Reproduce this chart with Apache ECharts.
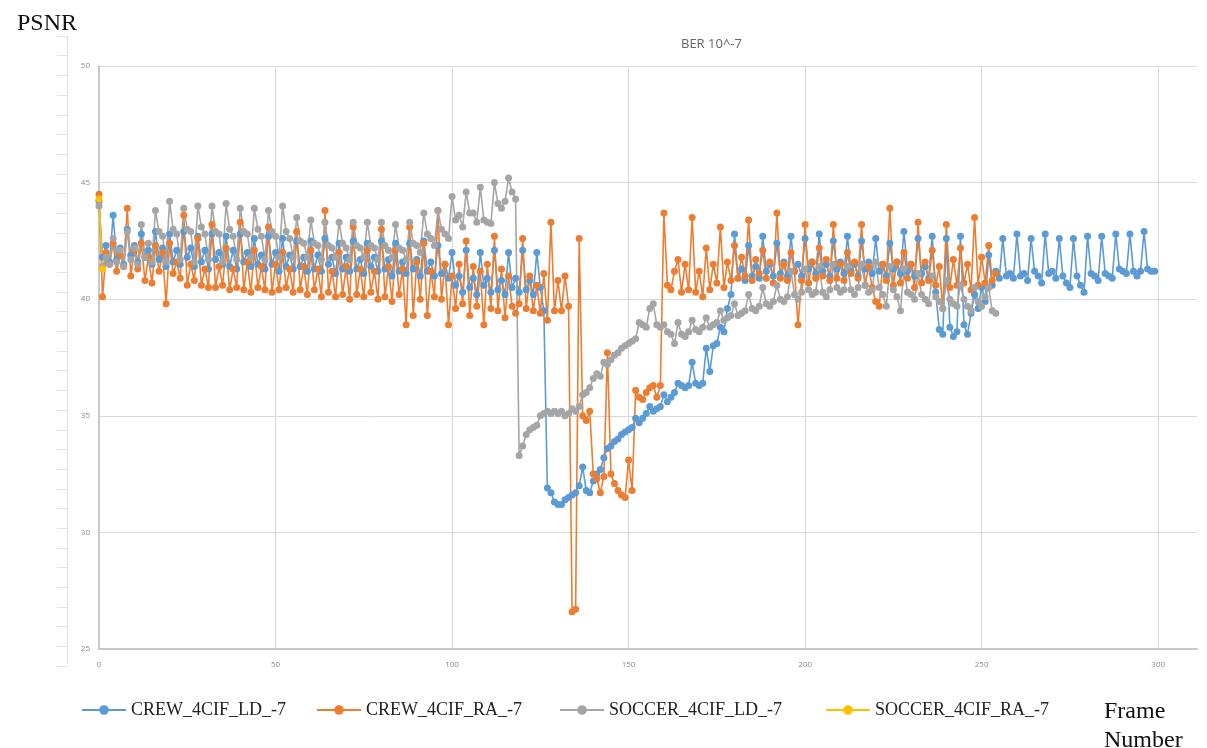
<!DOCTYPE html>
<html>
<head>
<meta charset="utf-8">
<script src="https://cdn.jsdelivr.net/npm/echarts@6/dist/echarts.min.js"></script>
<style>
html,body{margin:0;padding:0;background:#fff;}
#c{width:1207px;height:748px;}
</style>
</head>
<body>
<div id="c"></div>
<script>
// PSNR per frame (frame number = array index)
const crewLD = [
 44.2, 41.8, 42.3, 41.6, 43.6, 41.7, 42.2, 41.5, 43.0, 41.9,
 42.3, 41.6, 42.8, 41.8, 42.1, 41.5, 42.9, 41.7, 42.2, 41.4,
 42.8, 41.6, 42.1, 41.5, 42.9, 41.8, 42.2, 41.4, 42.7, 41.6,
 42.1, 41.3, 42.8, 41.7, 42.0, 41.5, 42.7, 41.4, 42.1, 41.3,
 42.8, 41.6, 42.0, 41.4, 42.6, 41.5, 41.9, 41.3, 42.7, 41.5,
 42.0, 41.2, 42.6, 41.4, 41.9, 41.3, 42.5, 41.4, 41.8, 41.2,
 42.5, 41.3, 41.9, 41.2, 42.6, 41.5, 41.8, 41.1, 42.4, 41.3,
 41.8, 41.2, 42.5, 41.3, 41.7, 41.1, 42.4, 41.4, 41.8, 41.2,
 42.5, 41.3, 41.7, 41.0, 42.4, 41.2, 41.6, 41.1, 42.4, 41.3,
 41.7, 41.0, 42.5, 41.2, 41.6, 41.0, 42.3, 41.1, 41.5, 40.9,
 42.0, 40.6, 41.0, 40.3, 42.1, 40.5, 40.9, 40.2, 42.0, 40.6,
 40.9, 40.3, 42.1, 40.4, 40.8, 40.2, 42.0, 40.5, 40.9, 40.3,
 42.1, 40.4, 40.8, 40.2, 42.0, 40.5, 39.5, 31.9, 31.7, 31.3,
 31.2, 31.2, 31.4, 31.5, 31.6, 31.7, 32.0, 32.8, 31.8, 31.7,
 32.2, 32.5, 32.7, 33.2, 33.6, 33.7, 33.9, 34.0, 34.2, 34.3,
 34.4, 34.5, 34.9, 34.7, 34.9, 35.1, 35.4, 35.2, 35.3, 35.4,
 35.9, 35.6, 35.8, 36.0, 36.4, 36.3, 36.2, 36.3, 37.3, 36.4,
 36.3, 36.4, 37.9, 36.9, 38.0, 38.1, 38.8, 38.6, 39.6, 40.2,
 42.8, 40.9, 41.3, 40.8, 42.3, 41.0, 41.4, 40.9, 42.7, 41.2,
 41.5, 41.0, 42.4, 41.1, 41.6, 41.0, 42.7, 41.2, 41.5, 41.0,
 42.6, 41.3, 41.6, 41.1, 42.8, 41.2, 41.5, 41.0, 42.5, 41.3,
 41.6, 41.1, 42.7, 41.2, 41.5, 41.0, 42.5, 41.3, 41.6, 41.1,
 42.6, 41.2, 41.5, 41.0, 42.4, 41.3, 41.6, 41.1, 42.9, 41.2,
 41.5, 41.0, 42.6, 41.1, 41.4, 40.9, 42.7, 40.3, 38.7, 38.5,
 42.6, 38.8, 38.4, 38.6, 42.7, 38.9, 38.5, 39.4, 40.2, 39.6,
 40.5, 39.9, 41.9, 40.6, 41.2, 40.9, 42.6, 41.0, 41.1, 40.9,
 42.8, 41.0, 41.1, 40.8, 42.6, 41.2, 41.0, 40.7, 42.8, 41.1,
 41.2, 40.9, 42.6, 41.0, 40.7, 40.5, 42.6, 41.0, 40.6, 40.3,
 42.7, 41.1, 41.0, 40.8, 42.7, 41.1, 41.0, 40.9, 42.8, 41.3,
 41.2, 41.1, 42.8, 41.2, 41.0, 41.2, 42.9, 41.3, 41.2, 41.2
];
const crewRA = [
 44.5, 40.1, 42.0, 41.5, 42.4, 41.2, 41.9, 41.4, 43.9, 41.0,
 42.1, 41.3, 42.4, 40.8, 41.8, 40.7, 42.3, 41.2, 42.0, 39.8,
 42.4, 41.1, 41.6, 40.9, 43.6, 40.6, 41.5, 40.8, 42.6, 40.6,
 41.3, 40.5, 43.2, 40.5, 41.4, 40.6, 42.2, 40.4, 41.3, 40.5,
 43.3, 40.4, 41.6, 40.3, 42.1, 40.5, 41.4, 40.4, 43.1, 40.3,
 41.5, 40.4, 42.0, 40.5, 41.3, 40.3, 42.9, 40.4, 41.4, 40.2,
 42.1, 40.4, 41.3, 40.1, 43.8, 40.3, 41.2, 40.1, 42.0, 40.2,
 41.4, 40.0, 43.1, 40.2, 41.3, 40.1, 42.1, 40.3, 41.2, 40.0,
 43.0, 40.1, 41.4, 39.9, 42.1, 40.2, 41.3, 38.9, 43.1, 39.3,
 41.6, 40.0, 42.4, 39.3, 41.2, 40.1, 43.8, 40.0, 41.5, 38.9,
 41.0, 39.6, 41.5, 39.8, 42.5, 39.3, 41.4, 39.7, 41.2, 38.9,
 41.5, 39.6, 42.7, 39.5, 41.3, 39.2, 41.0, 39.7, 39.4, 39.8,
 42.6, 39.6, 41.0, 39.5, 40.6, 39.4, 41.1, 39.1, 43.3, 39.5,
 40.8, 39.5, 41.0, 39.7, 26.6, 26.7, 42.6, 35.0, 34.8, 35.2,
 32.5, 32.3, 31.7, 32.4, 37.7, 32.5, 32.1, 31.8, 31.6, 31.5,
 33.1, 31.8, 36.1, 35.8, 35.7, 36.0, 36.2, 36.3, 35.8, 36.3,
 43.7, 40.6, 40.4, 41.2, 41.7, 40.3, 41.5, 40.4, 43.5, 40.3,
 41.2, 40.1, 42.2, 40.4, 41.5, 40.7, 43.1, 40.5, 41.6, 40.8,
 42.3, 40.9, 41.8, 41.0, 43.4, 40.8, 41.7, 41.1, 42.1, 40.9,
 41.6, 40.7, 43.7, 40.9, 41.5, 40.8, 42.0, 41.2, 38.9, 40.8,
 43.2, 40.7, 41.6, 40.9, 42.2, 41.0, 41.7, 40.8, 43.2, 40.9,
 41.5, 40.8, 42.0, 41.1, 41.6, 40.9, 43.2, 40.6, 41.4, 40.5,
 39.9, 39.7, 41.5, 40.8, 43.9, 40.6, 41.6, 40.7, 42.0, 40.9,
 41.5, 40.5, 43.3, 40.7, 41.6, 40.8, 42.1, 40.6, 41.4, 39.6,
 43.2, 40.5, 41.7, 40.6, 42.2, 40.7, 41.5, 40.4, 43.5, 40.6,
 41.8, 40.7, 42.3, 40.8, 41.1
];
const soccerLD = [
 44.0, 41.4, 41.8, 41.5, 42.6, 41.6, 42.1, 41.4, 42.9, 41.7,
 42.2, 41.5, 43.2, 41.8, 42.4, 41.6, 43.8, 42.9, 42.7, 41.6,
 44.2, 43.0, 42.8, 41.7, 43.9, 43.0, 42.9, 41.6, 44.0, 43.1,
 42.8, 41.7, 44.0, 42.9, 42.8, 41.6, 44.1, 43.0, 42.7, 41.7,
 43.9, 42.9, 42.8, 41.8, 43.9, 43.0, 42.7, 41.7, 43.8, 42.9,
 42.7, 41.8, 44.0, 42.9, 42.6, 41.8, 43.5, 42.5, 42.4, 41.8,
 43.4, 42.4, 42.3, 41.7, 43.3, 42.3, 42.2, 41.8, 43.3, 42.4,
 42.2, 41.7, 43.3, 42.3, 42.2, 41.8, 43.3, 42.3, 42.2, 41.7,
 43.3, 42.3, 42.1, 41.8, 43.2, 42.2, 42.1, 41.7, 43.3, 42.4,
 42.3, 42.0, 43.7, 42.8, 42.6, 42.3, 43.8, 43.0, 42.8, 42.6,
 44.4, 43.4, 43.6, 43.1, 44.6, 43.7, 43.7, 43.3, 44.8, 43.4,
 43.3, 43.25, 45.0, 44.1, 43.9, 44.2, 45.2, 44.6, 44.3, 33.3,
 33.7, 34.2, 34.4, 34.5, 34.6, 35.0, 35.1, 35.2, 35.1, 35.2,
 35.1, 35.2, 35.0, 35.1, 35.3, 35.2, 35.4, 35.9, 36.0, 36.2,
 36.6, 36.8, 36.7, 37.3, 37.2, 37.4, 37.6, 37.7, 37.9, 38.0,
 38.1, 38.2, 38.3, 39.0, 38.9, 38.8, 39.6, 39.8, 38.9, 38.8,
 38.9, 38.6, 38.5, 38.1, 39.0, 38.5, 38.4, 38.6, 39.1, 38.7,
 38.6, 38.8, 39.2, 38.8, 38.9, 39.0, 39.5, 39.1, 39.2, 39.3,
 39.8, 39.3, 39.4, 39.5, 40.2, 39.6, 39.5, 39.7, 40.5, 39.8,
 39.7, 39.9, 40.6, 40.0, 39.9, 40.1, 41.2, 40.2, 40.0, 40.3,
 41.3, 40.4, 40.2, 40.3, 41.4, 40.3, 40.1, 40.4, 41.5, 40.5,
 40.3, 40.4, 41.4, 40.4, 40.2, 40.5, 41.5, 40.6, 40.3, 40.4,
 41.6, 40.5, 40.2, 39.7, 41.4, 40.4, 40.1, 39.5, 41.3, 40.3,
 40.2, 40.0, 41.1, 40.2, 40.0, 39.8, 41.0, 40.1, 39.9, 39.6,
 40.8, 40.0, 39.8, 39.7, 40.6, 40.0, 39.7, 39.5, 40.5, 39.9,
 39.7, 40.1, 40.5, 39.5, 39.4
];
const soccerRA = [44.3, 41.3];

const seriesNames = ['CREW_4CIF_LD_-7', 'CREW_4CIF_RA_-7', 'SOCCER_4CIF_LD_-7', 'SOCCER_4CIF_RA_-7'];
const seriesColors = ['#5B9BD5', '#ED7D31', '#A5A5A5', '#FFC000'];
const seriesValues = [crewLD, crewRA, soccerLD, soccerRA];
const xTicks = [0, 50, 100, 150, 200, 250, 300];
const yTicks = [25, 30, 35, 40, 45, 50];

const chart = echarts.init(document.getElementById('c'), null, {renderer: 'canvas'});

const legendLefts = [76, 311, 554, 820];
const legends = seriesNames.map((n, i) => ({
  data: [n],
  left: legendLefts[i],
  top: 696,
  itemWidth: 44,
  itemHeight: 12,
  itemGap: 0,
  textStyle: {fontFamily: 'Liberation Serif', fontSize: 18, color: '#222'}
}));

const option = {
  animation: false,
  backgroundColor: '#fff',
  title: [
    {text: 'BER 10^-7', left: 676, top: 33,
     textStyle: {fontFamily: 'Open Sans', fontSize: 13, fontWeight: 'normal', color: '#666'}},
    {text: 'PSNR', left: 12, top: 7,
     textStyle: {fontFamily: 'Liberation Serif', fontSize: 24, fontWeight: 'normal', color: '#111'}}
  ],
  graphic: [{
    type: 'text', left: 1104, top: 697,
    style: {text: 'Frame\nNumber', font: '24px "Liberation Serif"', fill: '#111', lineHeight: 29}
  }],
  legend: legends,
  grid: [
    {left: 99, right: 10, top: 66, bottom: 99},
    {left: 67, top: 36, height: 630, width: 1}
  ],
  xAxis: [{
    type: 'value', min: 0, max: 311, interval: 50, gridIndex: 0,
    axisLine: {show: true, lineStyle: {color: '#c8c8c8', width: 2}},
    axisTick: {show: false},
    axisLabel: {
      margin: 12, fontSize: 8, color: '#8a8a8a', fontFamily: 'Open Sans',
      formatter: v => xTicks.indexOf(v) >= 0 ? String(v) : ''
    },
    splitLine: {show: true, lineStyle: {color: ['#d9d9d9','#d9d9d9','#d9d9d9','#d9d9d9','#d9d9d9','#d9d9d9','#d9d9d9','rgba(0,0,0,0)'], width: 1}}
  }, {
    type: 'value', gridIndex: 1, show: false, min: 0, max: 1
  }],
  yAxis: [{
    type: 'value', min: 25, max: 50, interval: 5, gridIndex: 0,
    axisLine: {show: true, lineStyle: {color: '#c8c8c8', width: 2}},
    axisTick: {show: false},
    axisLabel: {
      margin: 9, fontSize: 8, color: '#8a8a8a', fontFamily: 'Open Sans',
      formatter: v => yTicks.indexOf(v) >= 0 ? String(v) : ''
    },
    splitLine: {show: true, lineStyle: {color: '#d9d9d9', width: 1}}
  }, {
    type: 'value', gridIndex: 1, min: 0, max: 32, interval: 1,
    axisLine: {show: true, lineStyle: {color: '#e2e2e2', width: 1}},
    axisTick: {show: true, length: 10, lineStyle: {color: '#e2e2e2'}},
    axisLabel: {show: false},
    splitLine: {show: false}
  }],
  series: seriesValues.map((vals, i) => ({
    name: seriesNames[i],
    type: 'line',
    xAxisIndex: 0, yAxisIndex: 0,
    data: vals.map((v, k) => [k, v]),
    symbol: 'circle',
    symbolSize: 7,
    showSymbol: true,
    color: seriesColors[i],
    lineStyle: {width: 1.6, color: seriesColors[i]},
    itemStyle: {color: seriesColors[i]},
    emphasis: {disabled: true}
  }))
};
chart.setOption(option);
</script>
</body>
</html>
